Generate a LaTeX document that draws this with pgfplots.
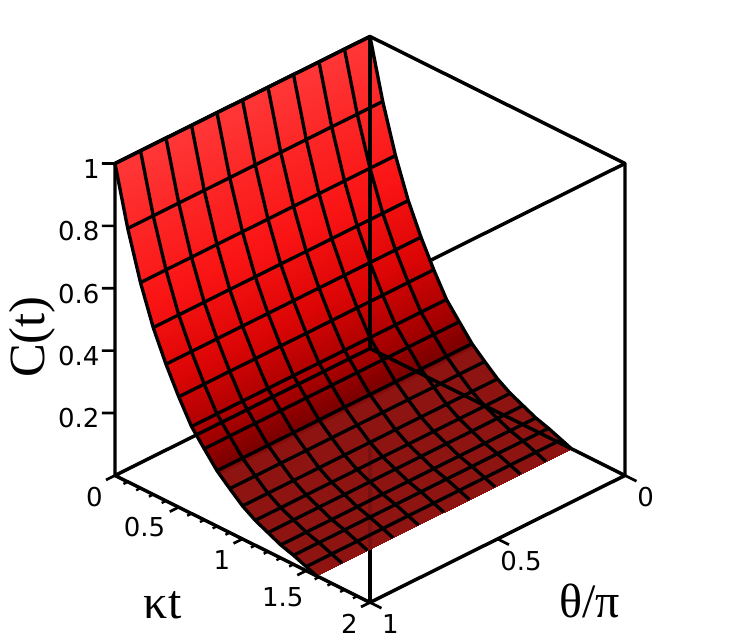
\documentclass[border=0pt]{standalone}
\usepackage{fontspec}
\setmainfont{DejaVu Sans}
\newfontfamily\lab{Liberation Serif}
\usepackage{pgfplots}
\usepackage{pgfplotstable}
\pgfplotsset{compat=1.18}

% kt, C(t) - surface does not depend on theta
\pgfplotstableread{
k c
0 1
0.1 0.812
0.2 0.659
0.3 0.535
0.4 0.438
0.5 0.354
0.6 0.279
0.7 0.228
0.8 0.178
0.9 0.141
1.0 0.106
1.1 0.080
1.2 0.061
1.3 0.042
1.4 0.029
1.5 0.013
1.58 0
}\curve

\begin{document}
\begin{tikzpicture}
\path[use as bounding box] (0,0) rectangle (555pt,480.75pt);
\begin{axis}[
  at={(277.5pt,219.4pt)}, anchor=origin,
  x={(95.625pt,-47.625pt)}, y={(-191.25pt,-95.25pt)}, z={(0pt,234pt)},
  xmin=0,xmax=2,ymin=0,ymax=1,zmin=0,zmax=1,
  clip=false,
  axis line style={draw=none},
  xtick={0,1,1.5,2}, ytick={0,1}, ztick={0.2,0.4,0.6,0.8,1},
  extra x ticks={0.5}, extra y ticks={0.5},
  extra x tick style={tick style={draw=none},xticklabel style={xshift=-8pt,yshift=5pt}},
  extra y tick style={tick style={draw=none},yticklabel style={yshift=3pt}},
  tick align=outside,
  tick style={draw=none},
  major tick length=9pt,
  xticklabel style={font=\fontsize{19.5}{19.5}\selectfont},
  yticklabel style={font=\fontsize{19.5}{19.5}\selectfont},
  zticklabel style={font=\fontsize{19.5}{19.5}\selectfont},
  /pgf/number format/assume math mode=true,
  colormap={cred}{rgb255(0)=(142,20,18); rgb255(17)=(142,20,18); rgb255(18)=(120,0,0);
    rgb255(25)=(165,0,0); rgb255(40)=(220,5,5); rgb255(60)=(250,20,20); rgb255(100)=(255,55,55)},
  point meta min=0, point meta max=1,
]
% front edges, hidden by the surface
\addplot3[black,line width=2.6pt] coordinates {(0,1,1)(2,1,1)(2,0,1)};
\addplot3[black,line width=2.6pt] coordinates {(2,1,0)(2,1,0.173)};
\addplot3[surf,shader=interp,mesh/ordering=y varies,mesh/rows=2,mesh/cols=17] table {
k t c
0 0 1
0 1 1
0.1 0 0.812
0.1 1 0.812
0.2 0 0.659
0.2 1 0.659
0.3 0 0.535
0.3 1 0.535
0.4 0 0.438
0.4 1 0.438
0.5 0 0.354
0.5 1 0.354
0.6 0 0.279
0.6 1 0.279
0.7 0 0.228
0.7 1 0.228
0.8 0 0.178
0.8 1 0.178
0.9 0 0.141
0.9 1 0.141
1.0 0 0.106
1.0 1 0.106
1.1 0 0.080
1.1 1 0.080
1.2 0 0.061
1.2 1 0.061
1.3 0 0.042
1.3 1 0.042
1.4 0 0.029
1.4 1 0.029
1.5 0 0.013
1.5 1 0.013
1.58 0 0
1.58 1 0
};
% mesh lines
\pgfplotsinvokeforeach{0,0.1,0.2,0.3,0.4,0.5,0.6,0.7,0.8,0.9,1}{
  \addplot3[black,line width=2.5pt,line join=round] table[x=k,y expr=#1,z=c] {\curve};
}
\addplot3[black,line width=2.6pt] coordinates {(0,0,1)(0,1,1)};
\addplot3[black,line width=2.5pt] coordinates {(0.1,0,0.812)(0.1,1,0.812)};
\addplot3[black,line width=2.5pt] coordinates {(0.2,0,0.659)(0.2,1,0.659)};
\addplot3[black,line width=2.5pt] coordinates {(0.3,0,0.535)(0.3,1,0.535)};
\addplot3[black,line width=2.5pt] coordinates {(0.4,0,0.438)(0.4,1,0.438)};
\addplot3[black,line width=2.5pt] coordinates {(0.5,0,0.354)(0.5,1,0.354)};
\addplot3[black,line width=2.5pt] coordinates {(0.6,0,0.279)(0.6,1,0.279)};
\addplot3[black,line width=2.5pt] coordinates {(0.7,0,0.228)(0.7,1,0.228)};
\addplot3[black,line width=2.5pt] coordinates {(0.8,0,0.178)(0.8,1,0.178)};
\addplot3[black,line width=2.5pt] coordinates {(0.9,0,0.141)(0.9,1,0.141)};
\addplot3[black,line width=2.5pt] coordinates {(1.0,0,0.106)(1.0,1,0.106)};
\addplot3[black,line width=2.5pt] coordinates {(1.1,0,0.080)(1.1,1,0.080)};
\addplot3[black,line width=2.5pt] coordinates {(1.2,0,0.061)(1.2,1,0.061)};
\addplot3[black,line width=2.5pt] coordinates {(1.3,0,0.042)(1.3,1,0.042)};
\addplot3[black,line width=2.5pt] coordinates {(1.4,0,0.029)(1.4,1,0.029)};
\addplot3[black,line width=2.5pt] coordinates {(1.5,0,0.013)(1.5,1,0.013)};
% faint front post seen through the surface
\addplot3[black,opacity=0.15,line width=2.6pt] coordinates {(2,1,0.173)(2,1,0.5)};
% frame, on top of the surface
\addplot3[black,line width=2.6pt,line join=round] coordinates {(0,1,1)(0,1,0)(2,1,0)(2,0,0)(0,0,0)(0,1,0)};
\addplot3[black,line width=2.6pt,line join=round] coordinates {(0,1,1)(0,0,1)(2,0,1)(2,0,0)};
\addplot3[black,line width=2.6pt] coordinates {(0,0,1)(0,0,0)};
% tick marks
\pgfplotsinvokeforeach{0,0.5,1,1.5,2}{
  \addplot3[black,line width=2pt] coordinates {(#1,1,0)(#1,1.035,0)};
}
\pgfplotsinvokeforeach{0.1,0.2,0.3,0.4,0.6,0.7,0.8,0.9,1.1,1.2,1.3,1.4,1.6,1.7,1.8,1.9}{
  \addplot3[black,line width=1.8pt] coordinates {(#1,1,0)(#1,1.017,0)};
}
\pgfplotsinvokeforeach{0,0.5,1}{
  \addplot3[black,line width=2pt] coordinates {(2,#1,0)(2.09,#1,0)};
}
\pgfplotsinvokeforeach{0.2,0.4,0.6,0.8,1}{
  \addplot3[black,line width=2pt] coordinates {(0,1,#1)(-0.051,1.0255,#1)};
}
\end{axis}
\node[font=\lab\fontsize{38}{38}\selectfont,rotate=90] at (24pt,228pt) {C(t)};
\node[font=\lab\fontsize{36}{36}\selectfont] at (122pt,27pt) {κt};
\node[font=\lab\fontsize{36}{36}\selectfont] at (442pt,30pt) {θ/π};
\end{tikzpicture}
\end{document}
